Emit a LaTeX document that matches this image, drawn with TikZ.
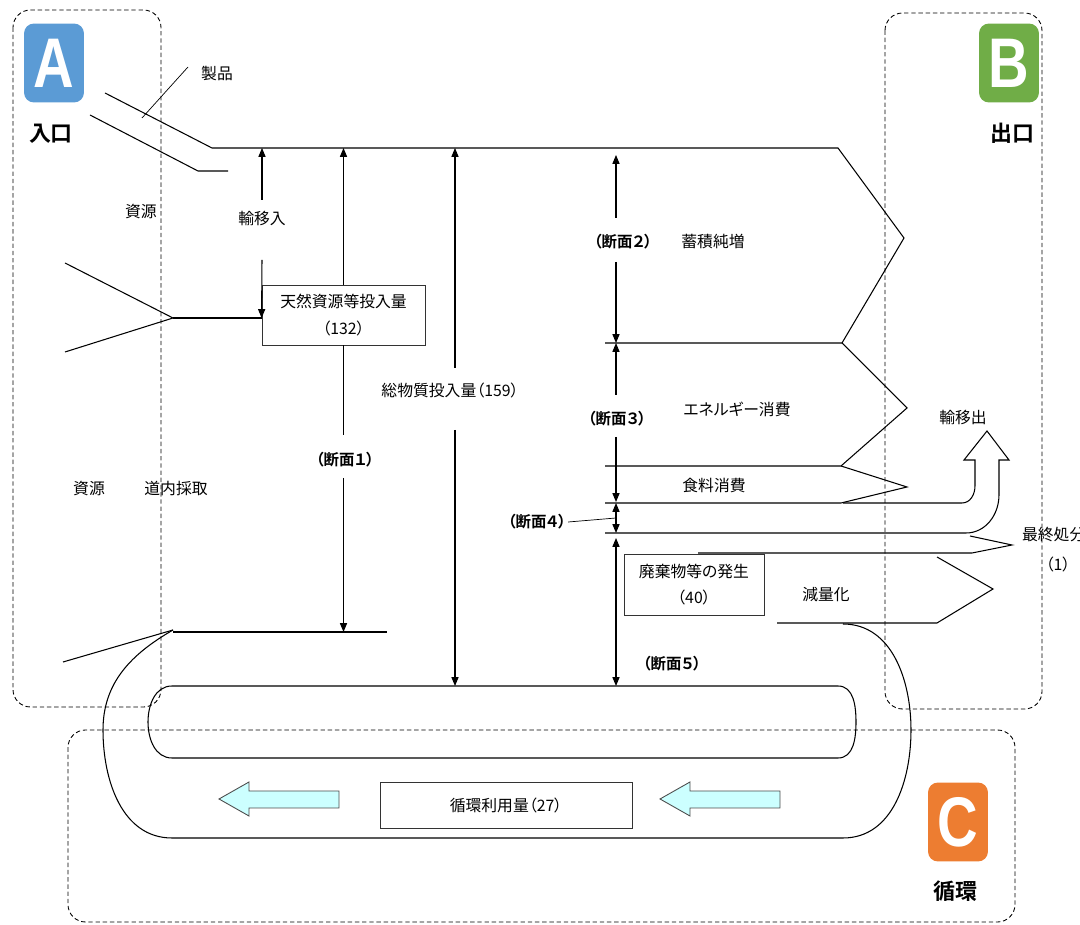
\documentclass[tikz,border=0pt]{standalone}
\usepackage{fontspec}
\setmainfont{Noto Sans CJK JP}[RawFeature=+palt,BoldFont={Noto Sans CJK JP Bold}]
\newfontfamily\letterfont{Liberation Sans}
\usetikzlibrary{arrows.meta}

\definecolor{zoneA}{HTML}{5B9BD5}
\definecolor{zoneB}{HTML}{70AD47}
\definecolor{zoneC}{HTML}{ED7D31}
\definecolor{backfill}{HTML}{CCFFFF}

\tikzset{
  flow/.style={line width=0.6pt},
  dim/.style={line width=0.6pt,-{Triangle[length=5pt,width=4pt]}},
  dimboth/.style={line width=0.6pt,{Triangle[length=5pt,width=4pt]}-{Triangle[length=5pt,width=4pt]}},
  zone/.style={line width=0.5pt,dash pattern=on 2.5pt off 1.6pt,rounded corners=0.35cm},
  badge/.style={rounded corners=0.2cm,minimum width=1.2cm,minimum height=1.58cm,inner sep=0pt,
    text=white,font=\letterfont\bfseries\fontsize{40}{40}\selectfont},
  zonename/.style={font=\bfseries\fontsize{12.5}{14}\selectfont},
  lbl/.style={font=\fontsize{9}{11}\selectfont,inner sep=1pt},
  sec/.style={font=\bfseries\fontsize{8.8}{10}\selectfont,inner sep=1pt},
  valbox/.style={draw=black!80,line width=0.5pt,fill=white,align=center,
    font=\fontsize{9}{15}\selectfont,inner sep=0pt},
  backarrow/.style={draw=black!70,line width=0.5pt,fill=backfill}
}

\begin{document}
\begin{tikzpicture}[x=0.02cm,y=-0.02cm]
\useasboundingbox (0,0) rectangle (1080,925);

% zones
\draw[zone] (13,10) rectangle (161,707);
\draw[zone] (885,13) rectangle (1042,709);
\draw[zone] (68,730) rectangle (1015,922);

% inflow and accumulation
\coordinate (topL) at (212,148);
\coordinate (topR) at (838,148);
\draw[flow] (105,93) -- (topL) -- (topR) -- (904,238) -- (842,343) -- (605,343);
\draw[flow] (90,115) -- (198,171) -- (228,171);
\draw (142,118) -- (188,67);
\coordinate (resIn) at (173,318);
\draw[flow] (65,263) -- (resIn) -- (65,352);

% energy, food
\draw[flow] (842,343) -- (907,408) -- (841,466) -- (605,466);
\draw[flow] (841,466) -- (907,487) -- (841,503) -- (605,503);

% export arrow
\draw[flow] (843,503) -- (962,503) to[out=0,in=-90] (975,486) -- (975,460) -- (964,460)
  -- (987,431) -- (1009,460) -- (999,460) -- (999,495) to[out=-90,in=0] (966,533) -- (605,533);

% final disposal
\draw[flow] (698,553) -- (972,553) -- (1012,545) -- (970,536);

% reduction
\draw[flow] (937,557) -- (993,589) -- (937,623) -- (777,623);

% recycling loop
\draw[flow] (63,662) -- (173,630);
\draw[flow] (173,632) -- (387,632);
\draw[flow] (843,624) to[out=0,in=90] (911,730) to[out=-90,in=0] (843,838) -- (172,838)
  to[out=180,in=-90] (103,730) to[out=90,in=-150] (173,630);
\draw[flow] (172,686) -- (838,686) to[out=0,in=90] (856,722) to[out=-90,in=0] (838,758)
  -- (172,758) to[out=180,in=-90] (148,722) to[out=90,in=180] (172,686);

% boxes
\node[valbox,minimum width=3.26cm,minimum height=1.2cm] (natural) at (343.5,315)
  {天然資源等投入量\\（132）};
\draw[flow] (resIn) -- (resIn -| natural.west);
\node[valbox,minimum width=2.8cm,minimum height=1.22cm] (waste) at (694,584.5)
  {廃棄物等の発生\\（40）};
\node[valbox,minimum width=5.04cm,minimum height=0.92cm] (recycle) at (506,805)
  {循環利用量（27）};

% recycling arrows
\foreach \t in {219,660}
  \draw[backarrow] (\t,799) -- ++(30,-17) -- ++(0,9) -- ++(90,0) -- ++(0,17)
    -- ++(-90,0) -- ++(0,8) -- cycle;

% import
\node[lbl] (import) at (262,218) {輸移入};
\coordinate (impA) at (262,200);
\coordinate (impB) at (262,260);
\draw[dim] (impA) -- (impA |- topL);
\draw[dim] (impB) -- (natural.west |- resIn);

% section 1
\node[sec] (sec1) at (345,460) {（断面１）};
\draw[dim] (natural.north) -- (natural.north |- topL);
\draw[flow] (natural.south) -- (343.5,435);
\draw[dim] (343.5,478) -- (343.5,632);

% total input
\node[lbl] (total) at (450,390) {総物質投入量（159）};
\draw[dim] (455,368) -- (455,148);
\draw[dim] (455,430) -- (455,686);

% section 2
\node[sec] (sec2) at (623,242) {（断面２）};
\node[lbl] (stock) at (713,242) {蓄積純増};
\draw[dim] (616,218) -- (616,155);
\draw[dim] (616,262) -- (616,343);

% section 3
\node[sec] (sec3) at (617,419) {（断面３）};
\node[lbl] (energy) at (737,409) {エネルギー消費};
\draw[dim] (616,395) -- (616,343);
\draw[dim] (616,437) -- (616,502);
\node[lbl] (food) at (714,486) {食料消費};

% section 4
\node[sec] (sec4) at (537,522) {（断面４）};
\coordinate (sec4m) at (616,518);
\draw (sec4.east) -- (sec4m);
\draw[dim] (sec4m) -- (616,503);
\draw[dim] (sec4m) -- (616,533);

% section 5
\node[sec] (sec5) at (672,664) {（断面５）};
\draw[dimboth] (616,538) -- (616,686);

% other labels
\node[lbl] (product) at (217,74) {製品};
\node[lbl] (res1) at (141,212) {資源};
\node[lbl] (res2) at (89,489) {資源};
\node[lbl] (local) at (176,489) {道内採取};
\node[lbl] (export) at (963,417) {輸移出};
\node[lbl,anchor=west] (final) at (1020,535) {最終処分};
\node[lbl] (finalv) at (1058,564) {（1）};
\node[lbl] (reduce) at (826,595) {減量化};

% badges
\node[badge,fill=zoneA] (badgeA) at (54,63) {\scalebox{0.8}[1]{A}};
\node[zonename] (inlet) at (51,134) {入口};
\node[badge,fill=zoneB] (badgeB) at (1009,63) {\scalebox{0.8}[1]{B}};
\node[zonename] (outlet) at (1012,133) {出口};
\node[badge,fill=zoneC] (badgeC) at (958,822) {\scalebox{0.8}[1]{C}};
\node[zonename] (cycle) at (955,891) {循環};

\end{tikzpicture}
\end{document}
